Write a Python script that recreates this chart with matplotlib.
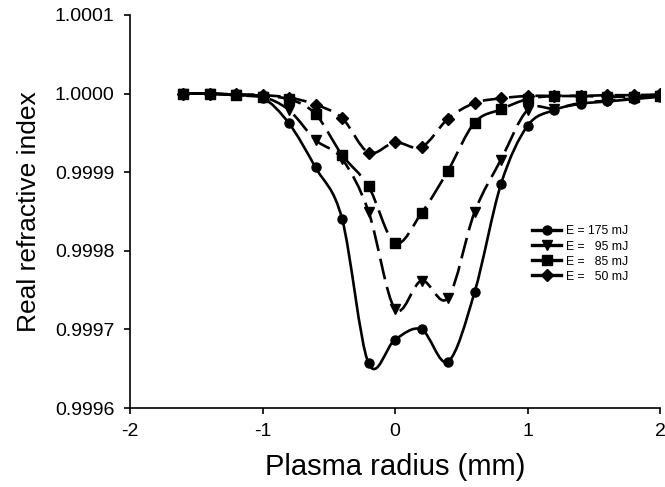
import numpy as np
import matplotlib
matplotlib.use("Agg")
import matplotlib.pyplot as plt
from matplotlib.path import Path
from matplotlib.patches import PathPatch
from matplotlib.lines import Line2D
from matplotlib.ticker import FormatStrFormatter

plt.rcParams['font.family'] = ['Liberation Sans', 'DejaVu Sans']

# plasma radius (mm)
radius = [-1.6, -1.4, -1.2, -1.0, -0.8, -0.6, -0.4, -0.2, 0.0, 0.2,
          0.4, 0.6, 0.8, 1.0, 1.2, 1.4, 1.6, 1.8, 2.0]

# real refractive index for each pulse energy
n_175 = [1.000000, 1.000000, 0.999998, 0.999995, 0.999962, 0.999906,
         0.999841, 0.999657, 0.999687, 0.999700, 0.999659, 0.999747,
         0.999885, 0.999959, 0.999979, 0.999987, 0.999990, 0.999993,
         0.999996]
n_95 = [1.000000, 1.000000, 0.999998, 0.999996, 0.999979, 0.999941,
        0.999917, 0.999850, 0.999726, 0.999762, 0.999740, 0.999849,
        0.999916, 0.999979, 0.999981, 0.999988, 0.999991, 0.999994,
        0.999997]
n_85 = [1.000000, 1.000000, 0.999998, 0.999996, 0.999993, 0.999974,
        0.999922, 0.999882, 0.999810, 0.999848, 0.999902, 0.999963,
        0.999980, 0.999993, 0.999997, 0.999997, 0.999996, 0.999996,
        0.999997]
n_50 = [1.000000, 1.000000, 0.999999, 0.999998, 0.999995, 0.999986,
        0.999969, 0.999925, 0.999938, 0.999932, 0.999968, 0.999988,
        0.999994, 0.999997, 0.999997, 0.999997, 0.999998, 0.999998,
        0.999999]

labels = ['E = 175 mJ', 'E =   95 mJ', 'E =   85 mJ', 'E =   50 mJ']
markers = ['o', 'v', 's', 'D']
msizes = [6.5, 7, 6.5, 6.5]

xticks = [-2, -1, 0, 1, 2]
yticks = [0.9996, 0.9997, 0.9998, 0.9999, 1.0000, 1.0001]


def smooth_path(x, y):
    # bezier through the points, like a spreadsheet "smoothed line"
    x = np.asarray(x, float)
    y = np.asarray(y, float)
    verts = [(x[0], y[0])]
    codes = [Path.MOVETO]
    n = len(x)
    for i in range(n - 1):
        x0, y0 = (x[i - 1], y[i - 1]) if i > 0 else (x[i], y[i])
        x3, y3 = (x[i + 2], y[i + 2]) if i + 2 < n else (x[i + 1], y[i + 1])
        c1 = (x[i] + (x[i + 1] - x0) / 6, y[i] + (y[i + 1] - y0) / 6)
        c2 = (x[i + 1] - (x3 - x[i]) / 6, y[i + 1] - (y3 - y[i]) / 6)
        verts += [c1, c2, (x[i + 1], y[i + 1])]
        codes += [Path.CURVE4] * 3
    return Path(verts, codes)


fig = plt.figure(figsize=(6.65, 4.87), dpi=100)
ax = fig.add_axes([0.1955, 0.1622, 0.797, 0.807])

series = [n_175, n_95, n_85, n_50]
styles = ['solid', (0, (8, 3)), (0, (9, 3)), (0, (7, 3))]
for vals, mk, ms, ls in zip(series, markers, msizes, styles):
    p = PathPatch(smooth_path(radius, vals), fill=False, edgecolor='black',
                  lw=1.9, linestyle=ls, capstyle='butt')
    ax.add_patch(p)
    ax.plot(radius, vals, linestyle='none', marker=mk, ms=ms, color='black')

handles = [Line2D([], [], color='black', lw=2.4, marker=mk, ms=ms)
           for mk, ms in zip(markers, msizes)]
fig.legend(handles, labels, loc='upper left', bbox_to_anchor=(0.800, 0.537),
           frameon=False, fontsize=8.8, handlelength=2.4, handletextpad=0.35,
           labelspacing=0.25, borderpad=0, borderaxespad=0)

ax.set_xlim(-2, 2)
ax.set_ylim(0.9996, 1.0001)
ax.set_xticks(xticks)
ax.set_yticks(yticks)
ax.yaxis.set_major_formatter(FormatStrFormatter('%.4f'))
ax.xaxis.set_major_formatter(FormatStrFormatter('%d'))

for s in ['top', 'right']:
    ax.spines[s].set_visible(False)
for s in ['left', 'bottom']:
    ax.spines[s].set_linewidth(1.2)
ax.tick_params(axis='both', direction='out', length=4, width=1.2,
               labelsize=14, pad=7)

ax.set_xlabel('Plasma radius (mm)', fontsize=21, labelpad=9)
ax.set_ylabel('Real refractive index', fontsize=19, labelpad=10)

fig.savefig('out.png', dpi=100)
